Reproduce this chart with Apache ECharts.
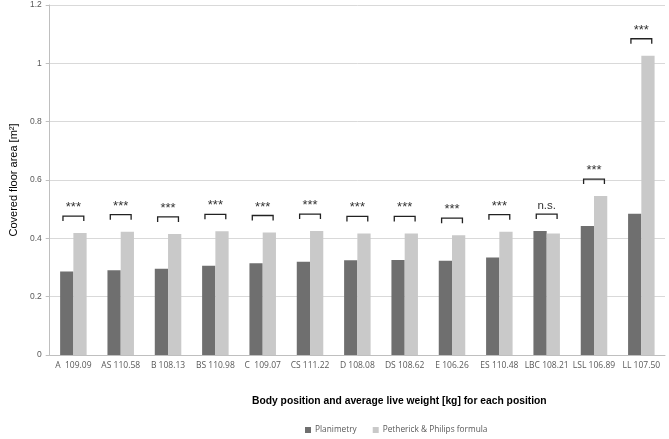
<!DOCTYPE html>
<html><head><meta charset="utf-8">
<script src="https://cdn.jsdelivr.net/npm/echarts@6/dist/echarts.min.js"></script>
<style>html,body{margin:0;padding:0;background:#fff}#c{width:669px;height:439px}</style>
</head><body><div id="c"></div>
<script>
const categories = ['A  109.09','AS 110.58','B 108.13','BS 110.98','C  109.07','CS 111.22','D 108.08','DS 108.62','E 106.26','ES 110.48','LBC 108.21','LSL 106.89','LL 107.50'];
const planimetry = [0.286,0.291,0.296,0.306,0.315,0.320,0.325,0.326,0.323,0.334,0.425,0.442,0.484];
const petherick = [0.418,0.423,0.415,0.424,0.420,0.425,0.417,0.417,0.411,0.423,0.417,0.545,1.026];
const significance = ['***','***','***','***','***','***','***','***','***','***','n.s.','***','***'];
const yTicks = [0,0.2,0.4,0.6,0.8,1,1.2];

const sigData = categories.map((c,i)=>[i, Math.max(planimetry[i], petherick[i]), significance[i]]);

const chart = echarts.init(document.getElementById('c'));
chart.setOption({
  animation:false,
  textStyle:{fontFamily:'Liberation Sans, Arial, sans-serif'},
  grid:{left:42,right:4,top:5,bottom:84},
  title:{
    text:'Body position and average live weight [kg] for each position',
    left:247,top:391,
    textStyle:{color:'#000',fontSize:10.3,fontWeight:'bold',fontFamily:'Liberation Sans, Arial, sans-serif'}
  },
  legend:{
    top:421,left:300,itemWidth:6,itemHeight:6,itemGap:16,icon:'rect',
    data:['Planimetry','Petherick & Philips formula'],
    textStyle:{color:'#595959',fontSize:8.3,fontFamily:'Open Sans, sans-serif',padding:[0,0,0,-1]}
  },
  xAxis:{
    type:'category',data:categories,
    axisLine:{lineStyle:{color:'#bfbfbf'}},
    axisTick:{lineStyle:{color:'#bfbfbf'},length:4},
    axisLabel:{color:'#595959',fontSize:8.5,margin:6,fontFamily:'Open Sans, sans-serif',interval:0}
  },
  yAxis:{
    type:'value',min:0,max:1.2,interval:0.2,
    name:'Covered floor area [m²]',nameLocation:'middle',nameGap:29,nameRotate:90,
    nameTextStyle:{color:'#000',fontSize:11},
    axisLine:{show:true,lineStyle:{color:'#bfbfbf'}},
    axisTick:{show:true,lineStyle:{color:'#bfbfbf'},length:4},
    axisLabel:{color:'#595959',fontSize:8.5,margin:8,formatter:v=>yTicks.includes(+v.toFixed(1))?String(+v.toFixed(1)):''},
    splitLine:{lineStyle:{color:'#d9d9d9'}}
  },
  series:[
    {name:'Planimetry',type:'bar',data:planimetry,barWidth:'28%',barGap:'0%',itemStyle:{color:'#6f6f6f'}},
    {name:'Petherick & Philips formula',type:'bar',data:petherick,barWidth:'28%',itemStyle:{color:'#c9c9c9'}},
    {
      type:'custom',data:sigData,silent:true,z:5,
      renderItem:function(params,api){
        const p = api.coord([api.value(0), api.value(1)]);
        const w = api.size([1,0])[0];
        const half = w*0.22;
        const y = p[1]-17;
        const t = sigData[params.dataIndex][2];
        return {type:'group',children:[
          {type:'polyline',shape:{points:[[p[0]-half,y+5],[p[0]-half,y],[p[0]+half,y],[p[0]+half,y+5]]},
           style:{stroke:'#222',lineWidth:1.3,fill:null}},
          {type:'text',style:{text:t,x:p[0],y:y-2,align:'center',verticalAlign:'bottom',
            fill:'#333',fontSize:t==='n.s.'?11.5:13,fontFamily:'Liberation Sans, sans-serif'}}
        ]};
      }
    }
  ]
});
</script></body></html>
